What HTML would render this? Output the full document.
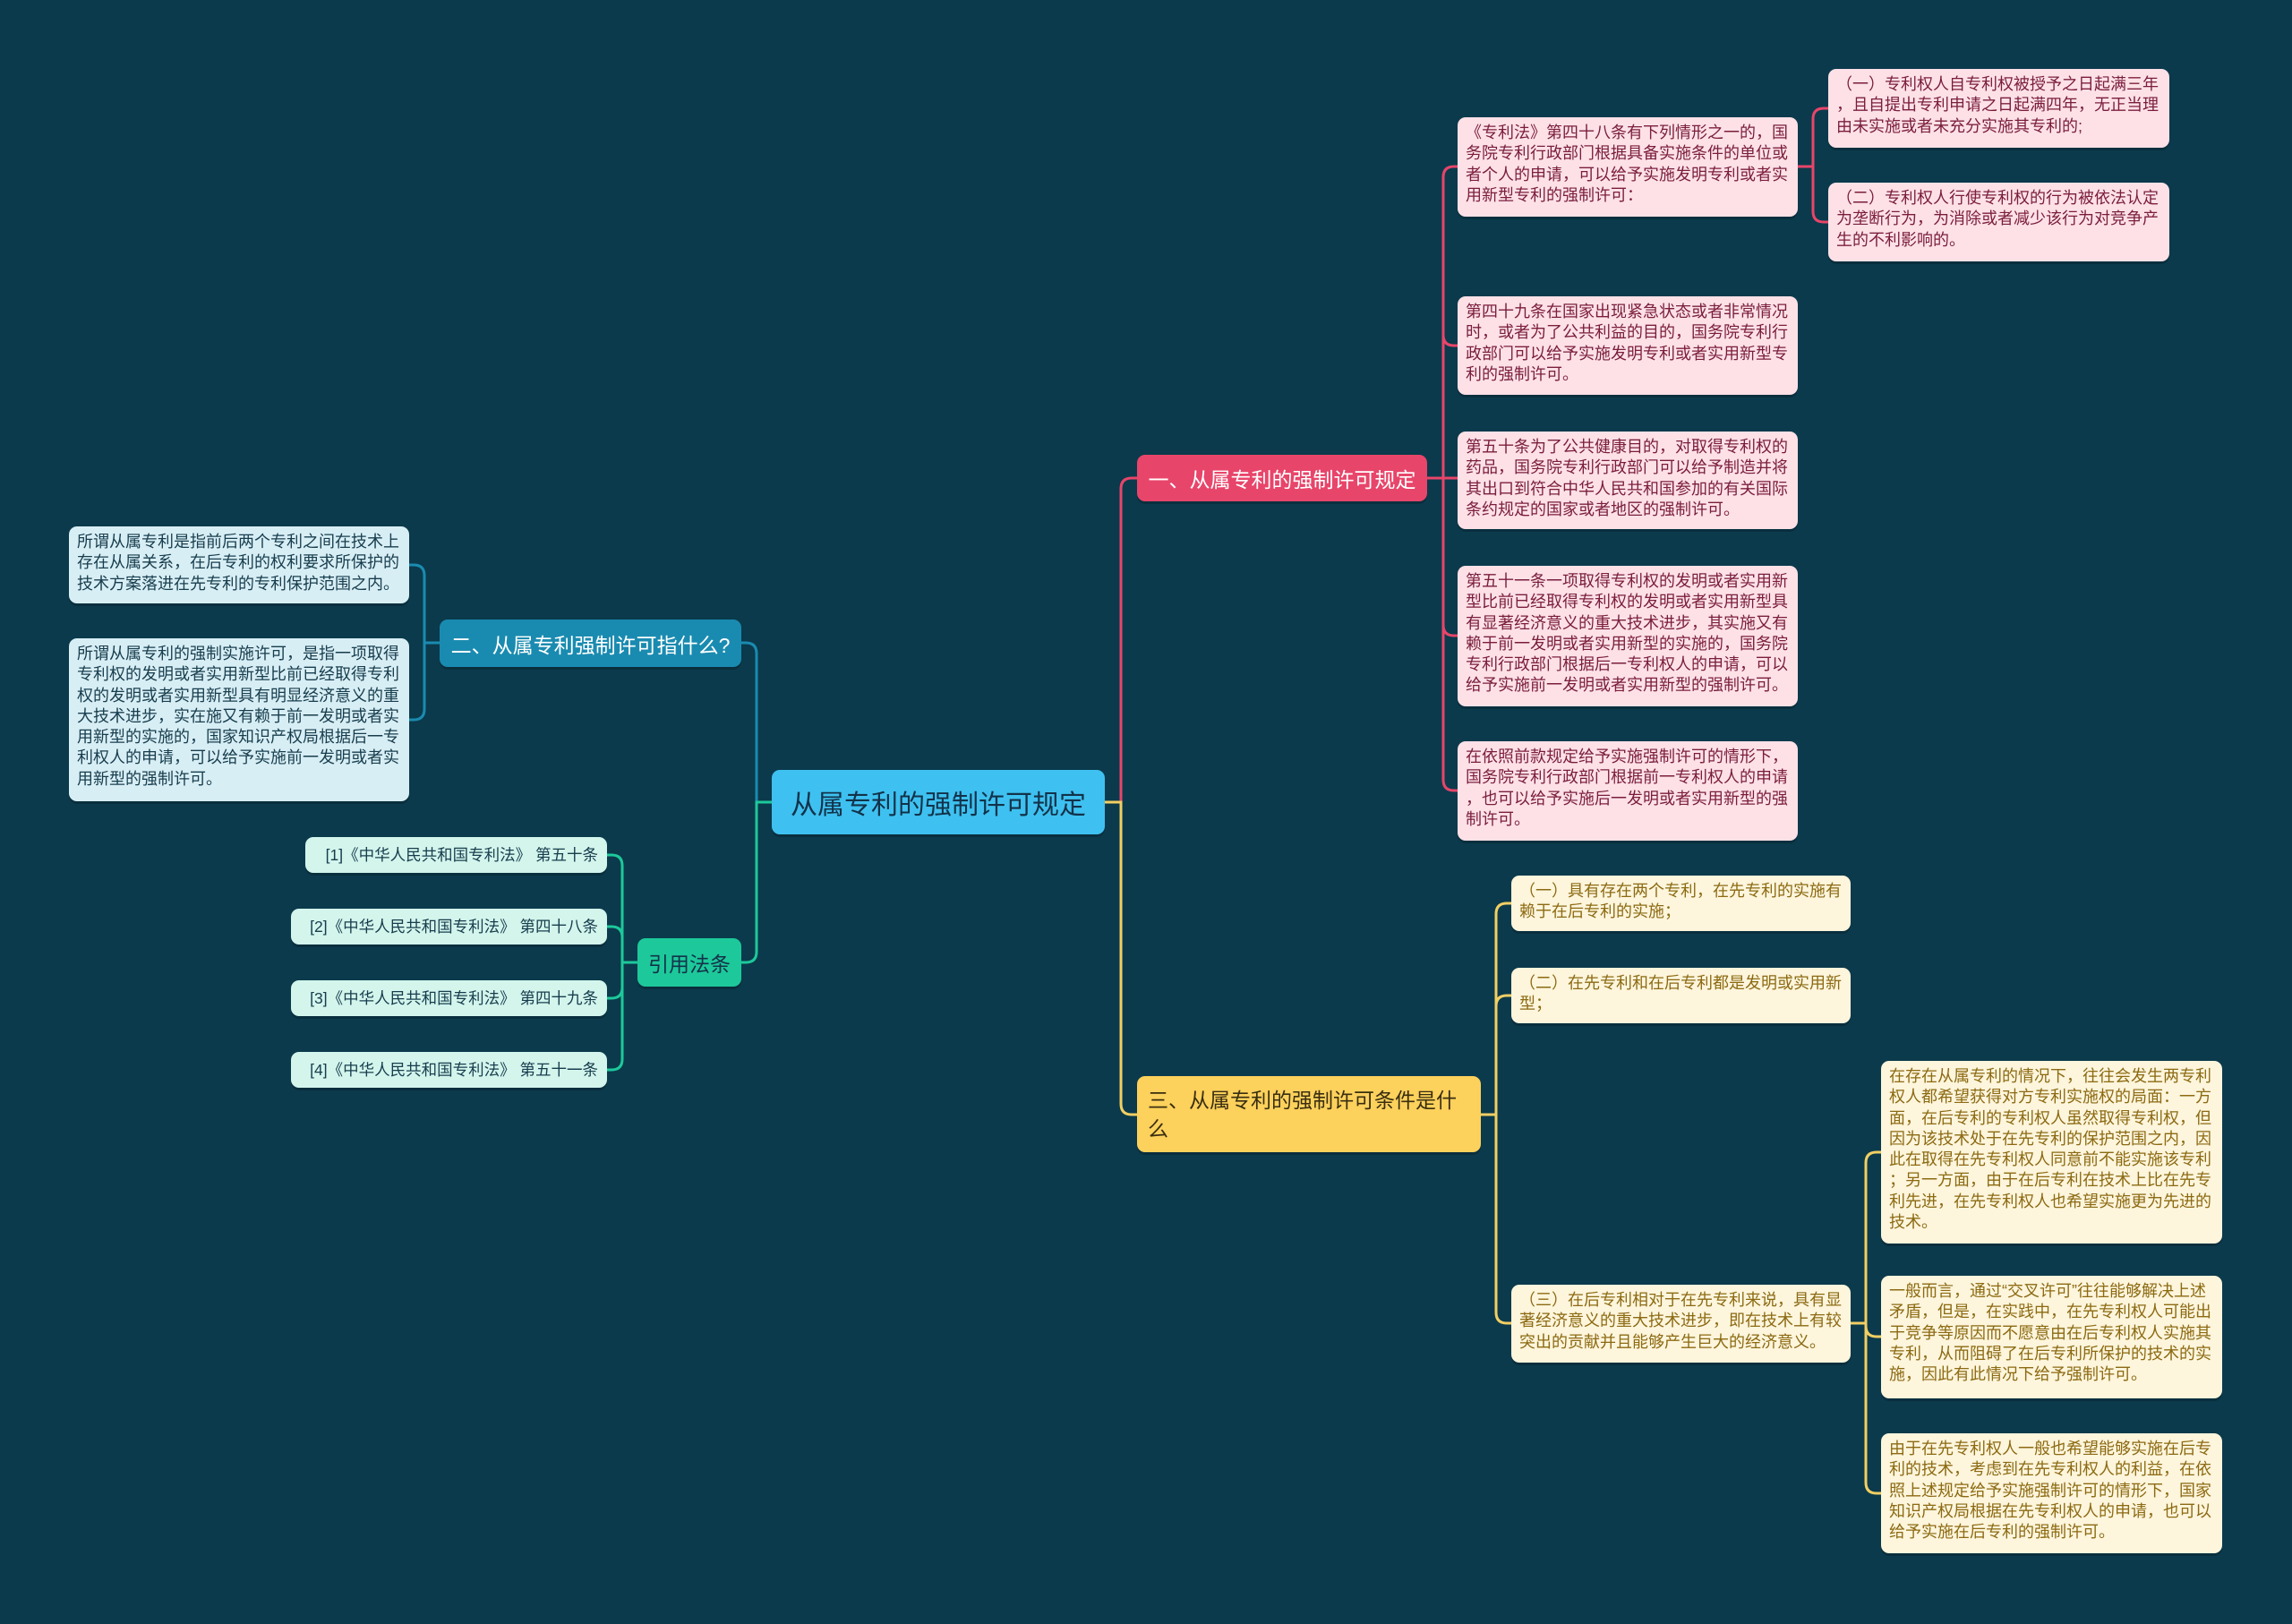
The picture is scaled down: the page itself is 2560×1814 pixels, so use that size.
<!DOCTYPE html>
<html><head><meta charset="utf-8">
<style>
html,body{margin:0;padding:0}
body{width:2560px;height:1814px;background:#0b3a4c;position:relative;overflow:hidden;font-family:"Liberation Sans","Noto Sans CJK SC",sans-serif}
.n{position:absolute;box-sizing:border-box;border-radius:9px;font-size:18px;line-height:23.3px;padding:6px 8px 6px 9px;line-break:anywhere;word-break:break-all;box-shadow:0 3px 0 rgba(0,0,0,0.18)}
.pk{background:#fde1e7;color:#7a1d3c}
.yl{background:#fdf5dc;color:#8c6a12}
.bl{background:#d8eef5;color:#173d4d}
.gr{background:#d3f5ec;color:#173d4d;text-align:right;line-height:28px;padding:6px 10px;white-space:nowrap;font-size:17.5px}
.b{position:absolute;box-sizing:border-box;border-radius:9px;display:flex;align-items:center;justify-content:center;box-shadow:0 3px 0 rgba(0,0,0,0.18)}
svg{position:absolute;left:0;top:0}
</style></head><body>
<svg width="2560" height="1814" fill="none" stroke-width="3">
<g stroke="#e8456a">
<path d="M1234,896 H1252 V546 Q1252,534 1264,534 H1270"/>
<path d="M1594,534 H1612 V198 Q1612,186 1624,186 H1628"/>
<path d="M1612,534 V374 Q1612,386 1624,386 H1628"/>
<path d="M1594,534 H1628"/>
<path d="M1612,534 V698 Q1612,710 1624,710 H1628"/>
<path d="M1612,698 V871 Q1612,883 1624,883 H1628"/>
<path d="M2008,186 H2025 V133 Q2025,121 2037,121 H2042"/>
<path d="M2025,186 V236 Q2025,248 2037,248 H2042"/>
</g>
<g stroke="#f2cf63">
<path d="M1234,896 H1252 V1233 Q1252,1245 1264,1245 H1270"/>
<path d="M1654,1245 H1671 V1021 Q1671,1009 1683,1009 H1688"/>
<path d="M1671,1124 Q1671,1112 1683,1112 H1688"/>
<path d="M1671,1245 V1466 Q1671,1478 1683,1478 H1688"/>
<path d="M2067,1478 H2084 V1299 Q2084,1287 2096,1287 H2101"/>
<path d="M2084,1478 V1481 Q2084,1493 2096,1493 H2101"/>
<path d="M2084,1478 V1656 Q2084,1668 2096,1668 H2101"/>
</g>
<g stroke="#1a8bb0">
<path d="M862,896 H845 V730 Q845,718 833,718 H828"/>
<path d="M491,718 H474 V643 Q474,631 462,631 H457"/>
<path d="M474,718 V792 Q474,804 462,804 H457"/>
</g>
<g stroke="#1dc99a">
<path d="M862,896 H845 V1063 Q845,1075 833,1075 H828"/>
<path d="M712,1075 H695 V967 Q695,955 683,955 H678"/>
<path d="M695,1047 Q695,1035 683,1035 H678"/>
<path d="M695,1075 V1103 Q695,1115 683,1115 H678"/>
<path d="M695,1103 V1183 Q695,1195 683,1195 H678"/>
</g>
</svg>

<div class="b" style="left:862px;top:860px;width:372px;height:72px;background:#3ec1f0;color:#12324a;font-size:30px">从属专利的强制许可规定</div>
<div class="b" style="left:1270px;top:508px;width:324px;height:52px;background:#e8456a;color:#fff;font-size:23px">一、从属专利的强制许可规定</div>
<div class="b" style="left:1270px;top:1202px;width:384px;height:85px;background:#fcd15c;color:#3a2e10;font-size:23px;justify-content:flex-start;padding:0 12px;line-height:32px">三、从属专利的强制许可条件是什么</div>
<div class="b" style="left:491px;top:692px;width:337px;height:53px;background:#1a8bb0;color:#fff;font-size:23px">二、从属专利强制许可指什么?</div>
<div class="b" style="left:712px;top:1048px;width:116px;height:54px;background:#1dc99a;color:#12324a;font-size:23px">引用法条</div>

<div class="n pk" style="left:1628px;top:131px;width:380px;height:111px">《专利法》第四十八条有下列情形之一的，国务院专利行政部门根据具备实施条件的单位或者个人的申请，可以给予实施发明专利或者实用新型专利的强制许可：</div>
<div class="n pk" style="left:1628px;top:331px;width:380px;height:110px">第四十九条在国家出现紧急状态或者非常情况时，或者为了公共利益的目的，国务院专利行政部门可以给予实施发明专利或者实用新型专利的强制许可。</div>
<div class="n pk" style="left:1628px;top:482px;width:380px;height:109px">第五十条为了公共健康目的，对取得专利权的药品，国务院专利行政部门可以给予制造并将其出口到符合中华人民共和国参加的有关国际条约规定的国家或者地区的强制许可。</div>
<div class="n pk" style="left:1628px;top:632px;width:380px;height:157px">第五十一条一项取得专利权的发明或者实用新型比前已经取得专利权的发明或者实用新型具有显著经济意义的重大技术进步，其实施又有赖于前一发明或者实用新型的实施的，国务院专利行政部门根据后一专利权人的申请，可以给予实施前一发明或者实用新型的强制许可。</div>
<div class="n pk" style="left:1628px;top:828px;width:380px;height:111px">在依照前款规定给予实施强制许可的情形下，国务院专利行政部门根据前一专利权人的申请，也可以给予实施后一发明或者实用新型的强制许可。</div>
<div class="n pk" style="left:2042px;top:77px;width:381px;height:88px">（一）专利权人自专利权被授予之日起满三年，且自提出专利申请之日起满四年，无正当理由未实施或者未充分实施其专利的;</div>
<div class="n pk" style="left:2042px;top:204px;width:381px;height:88px">（二）专利权人行使专利权的行为被依法认定为垄断行为，为消除或者减少该行为对竞争产生的不利影响的。</div>

<div class="n yl" style="left:1688px;top:978px;width:379px;height:62px">（一）具有存在两个专利，在先专利的实施有赖于在后专利的实施；</div>
<div class="n yl" style="left:1688px;top:1081px;width:379px;height:62px">（二）在先专利和在后专利都是发明或实用新型；</div>
<div class="n yl" style="left:1688px;top:1435px;width:379px;height:87px">（三）在后专利相对于在先专利来说，具有显著经济意义的重大技术进步，即在技术上有较突出的贡献并且能够产生巨大的经济意义。</div>
<div class="n yl" style="left:2101px;top:1185px;width:381px;height:204px">在存在从属专利的情况下，往往会发生两专利权人都希望获得对方专利实施权的局面：一方面，在后专利的专利权人虽然取得专利权，但因为该技术处于在先专利的保护范围之内，因此在取得在先专利权人同意前不能实施该专利；另一方面，由于在后专利在技术上比在先专利先进，在先专利权人也希望实施更为先进的技术。</div>
<div class="n yl" style="left:2101px;top:1425px;width:381px;height:137px">一般而言，通过“交叉许可”往往能够解决上述矛盾，但是，在实践中，在先专利权人可能出于竞争等原因而不愿意由在后专利权人实施其专利，从而阻碍了在后专利所保护的技术的实施，因此有此情况下给予强制许可。</div>
<div class="n yl" style="left:2101px;top:1601px;width:381px;height:134px">由于在先专利权人一般也希望能够实施在后专利的技术，考虑到在先专利权人的利益，在依照上述规定给予实施强制许可的情形下，国家知识产权局根据在先专利权人的申请，也可以给予实施在后专利的强制许可。</div>

<div class="n bl" style="left:77px;top:588px;width:380px;height:86px">所谓从属专利是指前后两个专利之间在技术上存在从属关系，在后专利的权利要求所保护的技术方案落进在先专利的专利保护范围之内。</div>
<div class="n bl" style="left:77px;top:713px;width:380px;height:182px">所谓从属专利的强制实施许可，是指一项取得专利权的发明或者实用新型比前已经取得专利权的发明或者实用新型具有明显经济意义的重大技术进步，实在施又有赖于前一发明或者实用新型的实施的，国家知识产权局根据后一专利权人的申请，可以给予实施前一发明或者实用新型的强制许可。</div>

<div class="n gr" style="left:341px;top:935px;width:337px;height:40px">[1]《中华人民共和国专利法》 第五十条</div>
<div class="n gr" style="left:325px;top:1015px;width:353px;height:40px">[2]《中华人民共和国专利法》 第四十八条</div>
<div class="n gr" style="left:325px;top:1095px;width:353px;height:40px">[3]《中华人民共和国专利法》 第四十九条</div>
<div class="n gr" style="left:325px;top:1175px;width:353px;height:40px">[4]《中华人民共和国专利法》 第五十一条</div>
</body></html>
